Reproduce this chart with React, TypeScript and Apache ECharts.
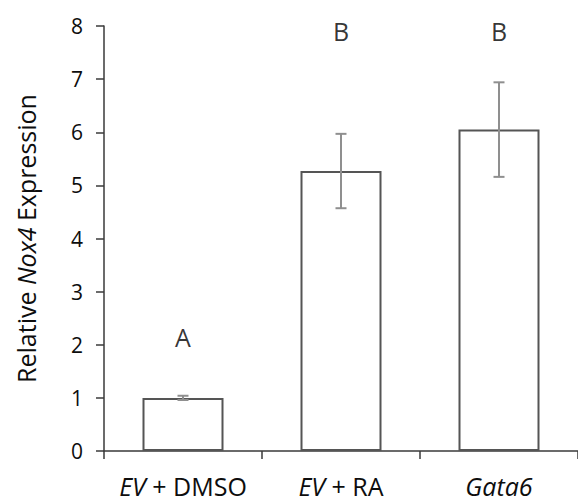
import React, { useEffect, useRef } from "react";
import * as echarts from "echarts";

const categories = ["EV + DMSO", "EV + RA", "Gata6"];
const italicParts = ["EV", "EV", "Gata6"];
const means = [1.0, 5.27, 6.05];
const errors = [0.04, 0.7, 0.89];
const letters = ["A", "B", "B"];
const letterY = [2.15, 7.9, 7.9];
const yTicks = [0, 1, 2, 3, 4, 5, 6, 7, 8];

const FONT = "Open Sans";
const TXT = "#0d0d0d";

export default function App() {
  const ref = useRef<HTMLDivElement>(null);
  useEffect(() => {
    document.body.style.margin = "0";
    const chart = echarts.init(ref.current!, null, { renderer: "svg" });
    const option: any = {
      animation: false,
      backgroundColor: "#ffffff",
      grid: { left: 104, top: 26, width: 483, height: 425, containLabel: false },
      xAxis: {
        type: "category",
        data: categories,
        axisLine: { lineStyle: { color: "#3a3a3a", width: 1.5 } },
        axisTick: { show: true, length: 8, lineStyle: { color: "#3a3a3a", width: 1.5 } },
        axisLabel: {
          interval: 0,
          margin: 22,
          color: TXT,
          fontFamily: FONT,
          fontSize: 25,
          formatter: (v: string) => {
            const idx = categories.indexOf(v);
            const it = italicParts[idx];
            const rest = v.slice(it.length);
            return "{i|" + it + "}" + (rest ? "{n|" + rest + "}" : "");
          },
          rich: {
            i: { fontStyle: "italic", fontFamily: FONT, fontSize: 25, color: TXT },
            n: { fontFamily: FONT, fontSize: 25, color: TXT },
          },
        },
      },
      yAxis: {
        type: "value",
        min: yTicks[0],
        max: yTicks[yTicks.length - 1],
        interval: 1,
        splitLine: { show: false },
        axisLine: { show: true, lineStyle: { color: "#3a3a3a", width: 1.5 } },
        axisTick: { show: true, length: 8, lineStyle: { color: "#3a3a3a", width: 1.5 } },
        axisLabel: { margin: 21, color: TXT, fontFamily: FONT, fontSize: 21 },
        name: "{n|Relative }{i|Nox4}{n| Expression}",
        nameLocation: "middle",
        nameGap: 66,
        nameTextStyle: {
          fontFamily: FONT,
          fontSize: 25,
          color: TXT,
          rich: {
            n: { fontFamily: FONT, fontSize: 25, color: TXT },
            i: { fontFamily: FONT, fontSize: 25, fontStyle: "italic", color: TXT },
          },
        },
      },
      series: [
        {
          type: "bar",
          data: means,
          barWidth: 81,
          itemStyle: { color: "#ffffff", borderColor: "#555555", borderWidth: 2 },
          z: 2,
        },
        {
          type: "custom",
          z: 3,
          data: means.map((m, i) => [i, m - errors[i], m + errors[i]]),
          renderItem: (params: any, api: any) => {
            const x = api.value(0);
            const lo = api.coord([x, api.value(1)]);
            const hi = api.coord([x, api.value(2)]);
            const cap = 5.5;
            const style = { stroke: "#8f8f8f", lineWidth: 2 };
            return {
              type: "group",
              children: [
                { type: "line", shape: { x1: lo[0], y1: lo[1], x2: hi[0], y2: hi[1] }, style },
                { type: "line", shape: { x1: lo[0] - cap, y1: lo[1], x2: lo[0] + cap, y2: lo[1] }, style },
                { type: "line", shape: { x1: hi[0] - cap, y1: hi[1], x2: hi[0] + cap, y2: hi[1] }, style },
              ],
            };
          },
        },
        {
          type: "scatter",
          symbolSize: 0,
          data: letterY.map((y, i) => [i, y]),
          label: {
            show: true,
            position: "inside",
            formatter: (p: any) => letters[p.dataIndex],
            fontFamily: FONT,
            fontSize: 25,
            color: "#000000",
          },
        },
      ],
    };
    chart.setOption(option);
    return () => chart.dispose();
  }, []);
  return (
    <div
      ref={ref}
      style={{ position: "fixed", left: 0, top: 0, width: 578, height: 502 }}
    />
  );
}
